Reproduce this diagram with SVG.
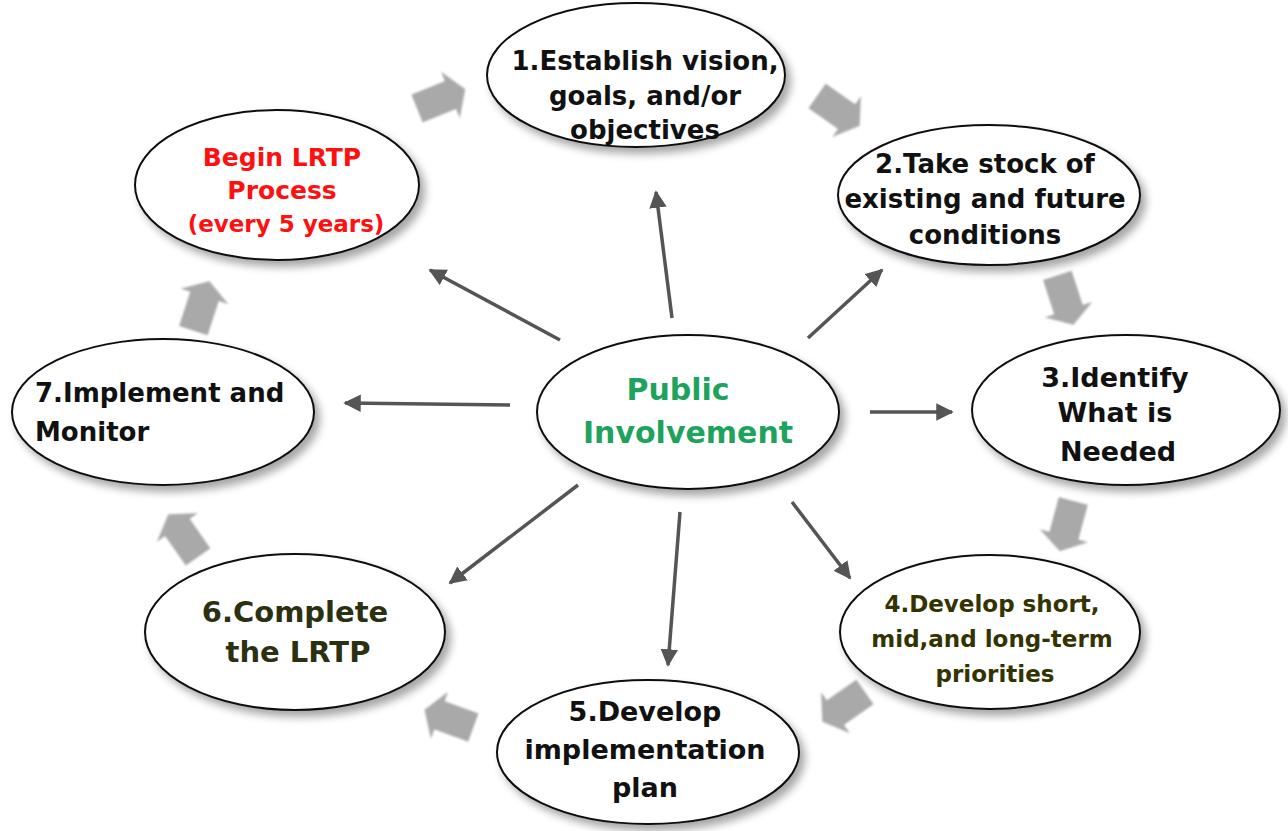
<svg xmlns="http://www.w3.org/2000/svg" width="1288" height="831" viewBox="0 0 1288 831">
<defs>
<filter id="sh" x="-10%" y="-10%" width="125%" height="130%">
<feGaussianBlur in="SourceAlpha" stdDeviation="4"/>
<feOffset dx="5" dy="6" result="b"/>
<feComponentTransfer><feFuncA type="linear" slope="0.35"/></feComponentTransfer>
<feMerge><feMergeNode/><feMergeNode in="SourceGraphic"/></feMerge>
</filter>
<filter id="soft"><feGaussianBlur stdDeviation="1.2"/></filter>
<marker id="ah" viewBox="0 0 10 10" refX="9" refY="5" markerWidth="5" markerHeight="5" orient="auto" markerUnits="strokeWidth">
<path d="M0,0 L10,5 L0,10 z" fill="#555"/>
</marker>
<path id="blk" d="M-28,-15 L8,-15 L8,-25 L24,0 L8,25 L8,15 L-28,15 z"/>
</defs>
<style>
.el{fill:#fff;stroke:#111;stroke-width:2;filter:url(#sh)}
.t{font-family:"DejaVu Sans","Liberation Sans",sans-serif;font-weight:bold;text-anchor:middle;fill:#111}
.con{stroke:#555;stroke-width:3.5;fill:none;marker-end:url(#ah)}
.blk{fill:#a9a9a9;filter:url(#soft)}
</style>
<rect width="1288" height="831" fill="#fff"/>

<g id="connectors">
<line class="con" x1="672" y1="318" x2="656" y2="192"/>
<line class="con" x1="560" y1="340" x2="430" y2="270"/>
<line class="con" x1="510" y1="405" x2="345" y2="403"/>
<line class="con" x1="808" y1="338" x2="882" y2="270"/>
<line class="con" x1="870" y1="412" x2="952" y2="412"/>
<line class="con" x1="792" y1="502" x2="850" y2="578"/>
<line class="con" x1="680" y1="512" x2="668" y2="665"/>
<line class="con" x1="578" y1="485" x2="450" y2="583"/>
<use href="#blk" class="blk" transform="translate(443,98) rotate(-22)"/>
<use href="#blk" class="blk" transform="translate(840,112) rotate(35)"/>
<use href="#blk" class="blk" transform="translate(1066,302) rotate(72)"/>
<use href="#blk" class="blk" transform="translate(1066,528) rotate(105)"/>
<use href="#blk" class="blk" transform="translate(842,708) rotate(145)"/>
<use href="#blk" class="blk" transform="translate(447,718) rotate(200)"/>
<use href="#blk" class="blk" transform="translate(182,534) rotate(235)"/>
<use href="#blk" class="blk" transform="translate(202,304) rotate(-72)"/>
</g>

<g id="n1">
<ellipse class="el" cx="636" cy="75" rx="149" ry="72"/>
<text class="t" font-size="26" x="645" y="70">1.Establish vision,</text>
<text class="t" font-size="26" x="645" y="105">goals, and/or</text>
<text class="t" font-size="26" x="645" y="139">objectives</text>
</g>
<g id="n2">
<ellipse class="el" cx="989" cy="195" rx="151" ry="70"/>
<text class="t" font-size="26" x="985" y="173">2.Take stock of</text>
<text class="t" font-size="26" x="985" y="208">existing and future</text>
<text class="t" font-size="26" x="985" y="244">conditions</text>
</g>
<g id="n3">
<ellipse class="el" cx="1126" cy="410" rx="154" ry="75"/>
<text class="t" font-size="27" x="1115" y="387">3.Identify</text>
<text class="t" font-size="27" x="1115" y="422">What is</text>
<text class="t" font-size="27" x="1118" y="461">Needed</text>
</g>
<g id="n4">
<ellipse class="el" cx="990" cy="632" rx="150" ry="77"/>
<text class="t" font-size="23" x="992" y="612" style="fill:#333300">4.Develop short,</text>
<text class="t" font-size="23" x="992" y="647" style="fill:#333300">mid,and long-term</text>
<text class="t" font-size="23" x="995" y="682" style="fill:#333300">priorities</text>
</g>
<g id="n5">
<ellipse class="el" cx="648" cy="752" rx="151" ry="72"/>
<text class="t" font-size="27" x="645" y="721">5.Develop</text>
<text class="t" font-size="27" x="645" y="759">implementation</text>
<text class="t" font-size="27" x="645" y="797">plan</text>
</g>
<g id="n6">
<ellipse class="el" cx="295" cy="632" rx="150" ry="78"/>
<text class="t" font-size="29" x="295" y="622" style="fill:#2b3010">6.Complete</text>
<text class="t" font-size="29" x="298" y="662" style="fill:#2b3010">the LRTP</text>
</g>
<g id="n7">
<ellipse class="el" cx="163" cy="412" rx="151" ry="73"/>
<text class="t" font-size="26" x="35" y="402" style="text-anchor:start">7.Implement and</text>
<text class="t" font-size="26" x="35" y="441" style="text-anchor:start">Monitor</text>
</g>
<g id="n0">
<ellipse class="el" cx="277" cy="185" rx="142" ry="75"/>
<text class="t" font-size="25" x="282" y="166" style="fill:#ff1010">Begin LRTP</text>
<text class="t" font-size="25" x="282" y="199" style="fill:#ff1010">Process</text>
<text class="t" font-size="23" x="286" y="232" style="fill:#ff1010">(every 5 years)</text>
</g>
<g id="center">
<ellipse class="el" cx="688" cy="412" rx="151" ry="77"/>
<text class="t" font-size="30" x="678" y="400" style="fill:#1ea35c">Public</text>
<text class="t" font-size="30" x="688" y="443" style="fill:#1ea35c">Involvement</text>
</g>
</svg>
